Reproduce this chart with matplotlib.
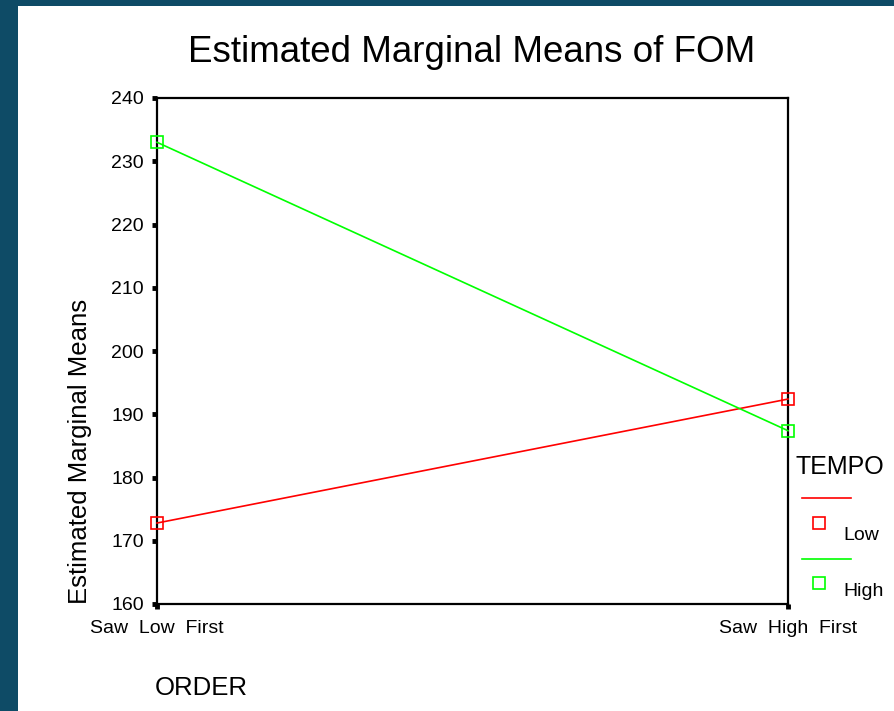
import matplotlib
matplotlib.use("Agg")
import matplotlib.pyplot as plt
from matplotlib.lines import Line2D
from matplotlib.patches import Rectangle

plt.rcParams['font.family'] = ['Liberation Sans', 'DejaVu Sans']

categories = ["Saw  Low  First", "Saw  High  First"]
series_names = ["Low", "High"]
low_values = [172.8, 192.4]
high_values = [233.0, 187.4]
yticks = [160, 170, 180, 190, 200, 210, 220, 230, 240]
colors = {"Low": "#ff0000", "High": "#00ff00"}

W, H = 895, 711
fig = plt.figure(figsize=(W / 100, H / 100), dpi=100)
fig.patch.set_facecolor("#0e4b66")
fig.add_artist(Rectangle((18 / W, 0), 1, 1 - 6 / H, transform=fig.transFigure,
                         facecolor="white", edgecolor="none", zorder=0))

L, R, T, B = 157, 788, 98, 604
ax = fig.add_axes([L / W, 1 - B / H, (R - L) / W, (B - T) / H])
ax.set_facecolor("white")

x = list(range(len(categories)))
ax.plot(x, low_values, color=colors["Low"], lw=1.2, marker="s", ms=9,
        mfc="none", mec=colors["Low"], mew=1.2, clip_on=False, zorder=3)
ax.plot(x, high_values, color=colors["High"], lw=1.2, marker="s", ms=9,
        mfc="none", mec=colors["High"], mew=1.2, clip_on=False, zorder=3)

ax.set_xlim(0, 1)
ax.set_ylim(160, 240)
ax.set_yticks(yticks)
ax.set_yticklabels([str(v) for v in yticks], fontsize=14)
ax.set_xticks(x)
ax.set_xticklabels(categories, fontsize=14)
ax.tick_params(axis='both', direction='out', length=3.5, width=3.5, color='black')
ax.tick_params(axis='y', pad=6)
ax.tick_params(axis='x', pad=8)
for s in ax.spines.values():
    s.set_linewidth(1.6)
    s.set_color('black')

fig.text(472 / W, 1 - 52 / H, "Estimated Marginal Means of FOM", fontsize=26.5,
         ha='center', va='center')
fig.text(80 / W, 1 - 451 / H, "Estimated Marginal Means", fontsize=18.5,
         rotation=90, ha='center', va='center')
fig.text(201 / W, 1 - 688 / H, "ORDER", fontsize=18.5, ha='center', va='center')

# legend
fig.text(796 / W, 1 - 467 / H, "TEMPO", fontsize=18, ha='left', va='center')
for name, ly, sy, ty in [("Low", 498, 523, 535), ("High", 559, 583, 591)]:
    c = colors[name]
    fig.add_artist(Line2D([802 / W, 851 / W], [1 - ly / H, 1 - ly / H],
                          transform=fig.transFigure, color=c, lw=1.2))
    fig.add_artist(Line2D([819 / W], [1 - sy / H], transform=fig.transFigure,
                          marker='s', ms=8.5, mfc='none', mec=c, mew=1.2, lw=0))
    fig.text(843 / W, 1 - ty / H, name, fontsize=14, ha='left', va='center')

fig.savefig("out.png", dpi=100, facecolor=fig.get_facecolor())
